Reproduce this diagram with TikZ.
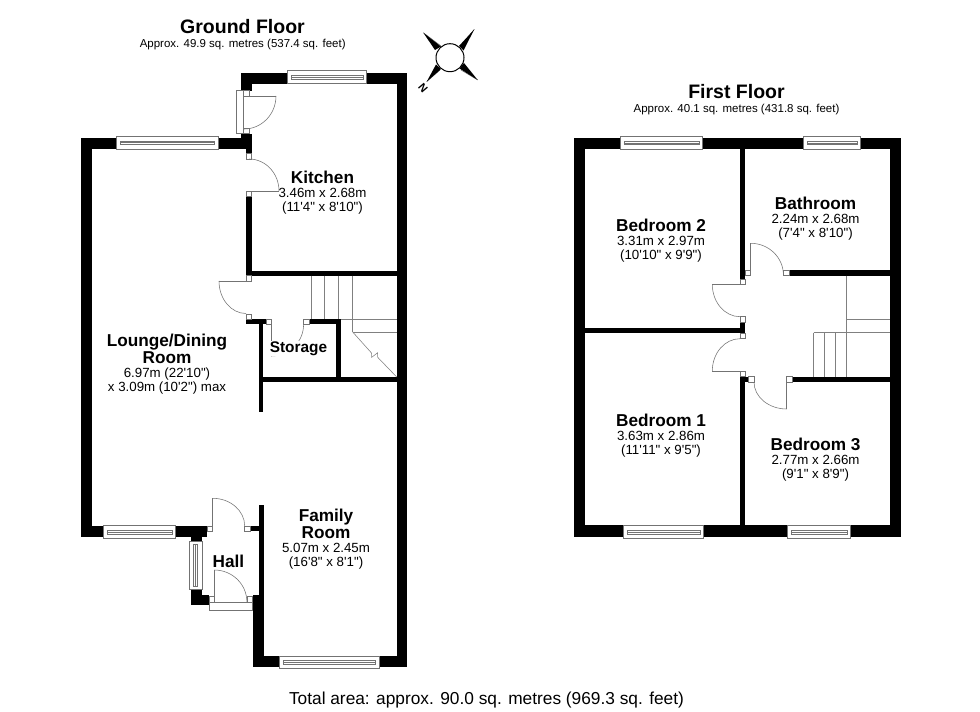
\documentclass[tikz,border=0pt]{standalone}
\usepackage{fontspec}
\setmainfont{Liberation Sans}
\newfontfamily\lsf{Liberation Sans}
\tikzset{
  x=1pt,y=-1pt,
  wall/.style={fill=black,draw=none},
  thin line/.style={draw=black!50,line width=0.55pt},
  frame/.style={draw=black!55,fill=white,line width=0.55pt},
  swing/.style={draw=black!55,line width=0.55pt},
  rlabel/.style={align=center,inner sep=0pt,font=\lsf\fontsize{13.3}{13.9}\selectfont},
}
\newcommand{\rname}[1]{{\fontsize{17.2}{19}\selectfont\bfseries #1}}
\newcommand{\winH}[4]{% x1,x2,y1,y2 horizontal window
  \path[frame] (#1,#3) rectangle (#2,#4);
  \path[swing] ({#1+3.5},{(#3+#4)/2-1.8}) rectangle ({#2-3.5},{(#3+#4)/2+1.8});
  \draw[swing] ({#1+3.5},{(#3+#4)/2}) -- ({#2-3.5},{(#3+#4)/2});
}
\newcommand{\sq}[2]{\path[frame] (#1,#2) rectangle ++(5.4,5.4);}
% quarter arc: start, corner, end
\newcommand{\qarc}[6]{\draw[swing] (#1,#2) .. controls ({#1+0.5523*(#3-#1)},{#2+0.5523*(#4-#2)}) and ({#5+0.5523*(#3-#5)},{#6+0.5523*(#4-#6)}) .. (#5,#6);}
\begin{document}
\begin{tikzpicture}
\useasboundingbox (0,0) rectangle (980,712);
\path[fill=white] (0,0) rectangle (980,712);

% ---------- Ground floor walls
\path[wall] (241,73) rectangle (407,83.5);
\path[wall] (396.7,73) rectangle (407,666.7);
\path[wall] (241,73) rectangle (251.5,90.7);
\path[wall] (241,134) rectangle (251.7,149.3);
\path[wall] (246,149) rectangle (251.7,153.5);
\path[wall] (80.7,138.3) rectangle (251.7,149.3);
\path[wall] (80.7,138.3) rectangle (91.5,536.7);
\path[wall] (246,196) rectangle (251.7,275.7);
\path[wall] (246,270.7) rectangle (397,275.7);
\path[wall] (246,319.3) rectangle (265.7,324.3);
\path[wall] (258.7,319.3) rectangle (263.3,412);
\path[wall] (309,319.3) rectangle (341,324.3);
\path[wall] (336,319.3) rectangle (341,382);
\path[wall] (258.7,376.7) rectangle (397,382);
\path[wall] (80.7,525.7) rectangle (207,536.7);
\path[wall] (191.3,525.7) rectangle (202.3,541.7);
\path[wall] (191.3,589) rectangle (202.3,605.3);
\path[wall] (191.3,595) rectangle (209.3,605.3);
\path[wall] (250,526) rectangle (259,531);
\path[wall] (258.7,505) rectangle (263.7,600);
\path[wall] (252.7,595) rectangle (263.7,666.7);
\path[wall] (252.7,656) rectangle (407,666.7);

% ---------- Ground floor windows
\winH{287.7}{366.7}{70.7}{83.5}
\winH{116.7}{218}{136}{149.3}
\winH{103.3}{175.7}{525.7}{538.7}
\winH{279.3}{379}{656}{668.7}
\path[frame] (189.3,541.7) rectangle (202.3,589);
\path[swing] (193.7,544.5) rectangle (197.5,586);
\draw[swing] (195.6,545) -- (195.6,585.5);

% ---------- Ground floor doors
\path[frame] (236,90.7) rectangle (243.7,133);
\sq{243.5}{90.7}
\sq{243.5}{127.8}
\draw[swing] (244,96) -- (276,96);
\qarc{276}{96}{276}{129}{244}{129}

\sq{246.2}{153.5}
\sq{246.2}{191}
\draw[swing] (249,191) -- (279,191);
\qarc{249}{159}{279}{159}{279}{191}

\sq{246}{275.7}
\sq{246}{313.8}
\draw[swing] (246,281) -- (219,281);
\qarc{219}{281}{219}{313.5}{246}{313.5}

\sq{265.8}{319.1}
\sq{303.6}{319.1}
\draw[swing] (271.2,324) -- (271.2,356);
\qarc{303.6}{324.5}{303.6}{356}{271.2}{356}

\sq{244.7}{525.8}
\sq{207.2}{525.8}
\draw[swing] (212.7,531) -- (212.7,498.3);
\qarc{212.7}{498.3}{244.7}{498.3}{244.7}{526}

\path[frame] (209.3,602.3) rectangle (252.7,610);
\sq{209.3}{596.7}
\sq{246.9}{596.7}
\draw[swing] (214.3,602) -- (214.3,570);
\qarc{214.3}{570}{246.9}{570}{246.9}{602}

% ---------- Ground floor stairs
\foreach \x in {311,324.7,338.7}{\draw[thin line] (\x,275.7) -- (\x,319.3);}
\draw[thin line] (352.7,275.7) -- (352.7,332);
\draw[thin line] (341,319.3) -- (396.7,319.3);
\draw[thin line] (352.7,332) -- (396.7,332);
\draw[thin line] (352.7,332) -- (371.5,353) -- (371.7,357.3) -- (377.7,352.7) -- (377.7,357.3) -- (396.7,377);

% ---------- First floor walls
\path[wall] (574,138.3) rectangle (901.3,149.3);
\path[wall] (574,138.3) rectangle (585.3,536.7);
\path[wall] (890,138.3) rectangle (901.3,536.7);
\path[wall] (574,525.3) rectangle (901.3,536.7);
\path[wall] (740,149) rectangle (745.2,279.3);
\path[wall] (740,322) rectangle (745.2,333.3);
\path[wall] (585,327.7) rectangle (745.2,333.3);
\path[wall] (740,376.7) rectangle (745.2,526);
\path[wall] (745,376.7) rectangle (749,382);
\path[wall] (789,270.2) rectangle (890,275.7);
\path[wall] (792,376.7) rectangle (890,382);

% ---------- First floor windows
\winH{620.3}{702.3}{136.3}{149.3}
\winH{803.7}{860.3}{136.3}{149.3}
\winH{623.7}{703.7}{525.3}{538.7}
\winH{787.3}{850.7}{525.3}{538.7}

% ---------- First floor doors
\sq{745.2}{270.2}
\sq{783.4}{270.2}
\draw[swing] (750.7,275) -- (750.7,243.3);
\qarc{750.7}{243.3}{783.4}{243.3}{783.4}{275}

\sq{740}{279.2}
\sq{740}{316.7}
\draw[swing] (740,284.3) -- (712.3,284.3);
\qarc{712.3}{284.3}{712.3}{316.7}{740}{316.7}

\sq{740}{333.3}
\sq{740}{371}
\draw[swing] (740,371) -- (712.3,371);
\qarc{740}{338.7}{712.3}{338.7}{712.3}{371}

\sq{748.6}{376.7}
\sq{786.7}{376.7}
\draw[swing] (786.7,382) -- (786.7,409);
\qarc{754}{382}{754}{409}{786.7}{409}

% ---------- First floor stairs
\draw[thin line] (846.3,275.7) -- (846.3,376.7);
\draw[thin line] (846.3,319.3) -- (890,319.3);
\draw[thin line] (813.7,332.7) -- (890,332.7);
\foreach \x in {813.7,824.7,835.7}{\draw[thin line] (\x,332.7) -- (\x,376.7);}

% ---------- Compass
\draw[line width=0.5pt,draw=black!60] (423.3,32.7) -- (441,46);
\draw[line width=0.5pt,draw=black!60] (474.3,29.3) -- (461,46);
\draw[line width=0.5pt,draw=black!60] (477.7,80) -- (461,70);
\draw[line width=0.5pt,draw=black!60] (426.7,81.7) -- (440,70);
\path[fill=black] (423.3,32.7) -- (435,50) -- (441,46.5) -- cycle;
\path[fill=black] (474.3,29.3) -- (459,46) -- (463.5,50.5) -- cycle;
\path[fill=black] (477.7,80) -- (464,63) -- (459.5,68.5) -- cycle;
\path[fill=black] (426.7,81.7) -- (441,69) -- (436,64.5) -- cycle;
\node (compass) [circle,draw=black,fill=white,line width=1pt,minimum size=28pt,inner sep=0pt] at (450,57.7) {};
\node (north) [rotate=-50,inner sep=0pt,font=\lsf\fontsize{11}{11}\selectfont\bfseries] at (423,88) {N};

% ---------- Titles
\node (gtitle) [inner sep=0pt,font=\fontsize{19.5}{20}\selectfont\bfseries] at (242.5,27) {Ground Floor};
\node (gsub) [inner sep=0pt,font=\fontsize{11.5}{12}\selectfont] at (242.7,44.5) {Approx. 49.9 sq. metres (537.4 sq. feet)};
\node (ftitle) [inner sep=0pt,font=\fontsize{19.5}{20}\selectfont\bfseries] at (736.5,92) {First Floor};
\node (fsub) [inner sep=0pt,font=\fontsize{11.5}{12}\selectfont] at (736.5,110) {Approx. 40.1 sq. metres (431.8 sq. feet)};
\node (total) [inner sep=0pt,font=\fontsize{17.3}{18}\selectfont] at (486.5,700) {Total area: approx. 90.0 sq. metres (969.3 sq. feet)};

% ---------- Room labels
\node (kitchen) [rlabel] at (322.5,192.5) {\rname{Kitchen}\\3.46m x 2.68m\\(11'4" x 8'10")};
\node (lounge) [rlabel] at (167,364) {\rname{Lounge/Dining}\\[1pt]\rname{Room}\\6.97m (22'10")\\x 3.09m (10'2") max};
\node (storage) [rlabel,fill=white,inner sep=0.5pt] at (298.5,348.5) {\fontsize{15.4}{15}\selectfont\bfseries Storage};
\node (family) [rlabel] at (326,539) {\rname{Family}\\[1pt]\rname{Room}\\5.07m x 2.45m\\(16'8" x 8'1")};
\node (hall) [rlabel] at (228.5,561) {\rname{Hall}};
\node (bed2) [rlabel] at (661,241) {\rname{Bedroom 2}\\3.31m x 2.97m\\(10'10" x 9'9")};
\node (bath) [rlabel] at (815.5,219) {\rname{Bathroom}\\2.24m x 2.68m\\(7'4" x 8'10")};
\node (bed1) [rlabel] at (661,435.5) {\rname{Bedroom 1}\\3.63m x 2.86m\\(11'11" x 9'5")};
\node (bed3) [rlabel] at (815.5,460) {\rname{Bedroom 3}\\2.77m x 2.66m\\(9'1" x 8'9")};
\end{tikzpicture}
\end{document}
